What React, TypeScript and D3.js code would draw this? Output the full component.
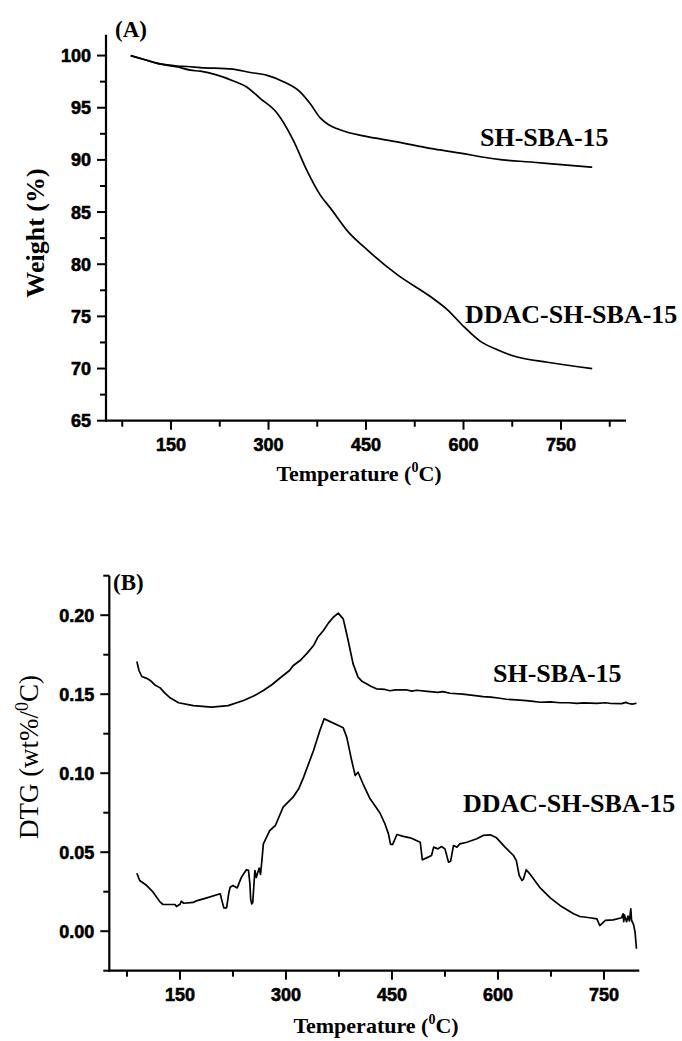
import React from "react";
import * as d3 from "d3";

// ---------- DATA ----------
const tgTicksX = [150, 300, 450, 600, 750];
const tgMinorX = [75, 225, 375, 525, 675, 825];
const tgTicksY = [65, 70, 75, 80, 85, 90, 95, 100];
const tgMinorY = [67.5, 72.5, 77.5, 82.5, 87.5, 92.5, 97.5];

const dtgTicksX = [150, 300, 450, 600, 750];
const dtgMinorX = [75, 225, 375, 525, 675];
const dtgTicksY = [0.0, 0.05, 0.1, 0.15, 0.2];
const dtgMinorY = [-0.025, 0.025, 0.075, 0.125, 0.175, 0.225];

// TG: [temperature °C, weight %]
const tgSH: [number, number][] = [
  [88, 100.0], [110, 99.6], [133, 99.2], [160, 99.0], [175, 98.95], [195, 98.85], [245, 98.7],
  [270, 98.4], [298, 98.1], [323, 97.5], [349, 96.5], [364, 95.4], [380, 94.0],
  [392, 93.4], [405, 93.0], [424, 92.6], [446, 92.3], [500, 91.7], [549, 91.1],
  [600, 90.6], [626, 90.3], [660, 90.0], [703, 89.8], [750, 89.55], [798, 89.3],
];
const tgDDAC: [number, number][] = [
  [88, 100.0], [110, 99.6], [133, 99.2], [160, 98.9], [180, 98.6], [195, 98.5],
  [220, 98.15], [246, 97.57], [267, 96.97], [287, 95.9], [313, 94.5], [338, 91.9],
  [359, 89.0], [380, 86.6], [395, 85.4], [424, 83.0], [446, 81.7], [498, 79.0],
  [549, 76.9], [575, 75.65], [600, 74.05], [626, 72.6], [652, 71.8], [677, 71.2],
  [729, 70.6], [798, 70.0],
];

// DTG: [temperature °C, wt%/°C]
const dtgSH: [number, number][] = [
  [89, 0.1707], [92, 0.165], [96, 0.1612], [102, 0.1602], [108, 0.1587], [114, 0.156],
  [122, 0.154], [128, 0.151], [136, 0.1477], [148, 0.1446], [169, 0.1428], [195, 0.1418],
  [218, 0.1428], [240, 0.146], [255, 0.149], [268, 0.1523], [280, 0.156], [292, 0.1604],
  [305, 0.165], [310, 0.168], [320, 0.1713], [330, 0.176], [339, 0.1808], [345, 0.186],
  [353, 0.1903], [360, 0.195], [367, 0.1987], [374, 0.2013], [381, 0.1977], [385, 0.19],
  [388, 0.184], [395, 0.1692], [402, 0.1608], [408, 0.158], [414, 0.1566], [420, 0.155],
  [428, 0.1534], [440, 0.153], [447, 0.1522], [455, 0.1527], [470, 0.1528], [478, 0.1519],
  [485, 0.1525], [500, 0.1518], [515, 0.1512], [522, 0.1516], [532, 0.1506], [550, 0.15],
  [565, 0.1492], [579, 0.1485], [590, 0.1482], [600, 0.1476], [612, 0.1468], [626, 0.1464],
  [640, 0.1459], [650, 0.1455], [660, 0.1449], [674, 0.1452], [688, 0.1446], [700, 0.1446],
  [712, 0.1442], [721, 0.1445], [740, 0.1442], [752, 0.1446], [760, 0.1441], [775, 0.1440],
  [781, 0.1448], [785, 0.1441], [790, 0.1437], [796, 0.1443],
];
const dtgDDAC: [number, number][] = [
  [89, 0.0367], [93, 0.0321], [103, 0.0289], [112, 0.0247], [122, 0.0184], [126, 0.0169],
  [143, 0.0169], [145, 0.0156], [150, 0.017], [152, 0.019], [155, 0.0177], [169, 0.0182],
  [172, 0.019], [188, 0.0211], [207, 0.0237], [209, 0.02], [212, 0.0148], [216, 0.0148],
  [219, 0.024], [221, 0.0278], [225, 0.0289], [231, 0.0274], [237, 0.0342], [244, 0.0389],
  [247, 0.0385], [249, 0.03], [250, 0.0205], [251.5, 0.0173], [253, 0.018], [254, 0.025],
  [256, 0.0384], [258, 0.034], [260, 0.037], [262, 0.0399], [264, 0.036], [266, 0.045],
  [268, 0.0553], [277, 0.0637], [285, 0.0669], [296, 0.0785], [310, 0.0848], [318, 0.0901],
  [325, 0.0975], [339, 0.1144], [348, 0.127], [354, 0.1344], [358, 0.1336], [381, 0.1287],
  [386, 0.1228], [393, 0.108], [398, 0.0985], [402, 0.1006], [409, 0.0933], [419, 0.0838],
  [424, 0.0806], [433, 0.0748], [440, 0.068], [445, 0.0616], [448, 0.0549], [451, 0.0549],
  [453, 0.057], [457, 0.0612], [466, 0.06], [476, 0.0591], [490, 0.0563], [493, 0.0452],
  [499, 0.0464], [506, 0.0479], [509, 0.0532], [515, 0.0521], [520, 0.0536], [525, 0.0521],
  [530, 0.0437], [533, 0.0443], [537, 0.0542], [542, 0.0532], [546, 0.0553], [556, 0.0563],
  [570, 0.0585], [579, 0.0606], [589, 0.061], [598, 0.0591], [610, 0.0532], [622, 0.0479],
  [626, 0.0447], [630, 0.0353], [634, 0.0321], [636, 0.033], [640, 0.0389], [645, 0.0363],
  [659, 0.0278], [674, 0.0211], [690, 0.0156], [707, 0.011], [716, 0.0093], [730, 0.0085],
  [740, 0.0078], [744, 0.0036], [752, 0.0068], [763, 0.0072], [775, 0.0085], [777, 0.011],
  [778, 0.006], [779, 0.0103], [782, 0.006], [784, 0.0095], [786, 0.0065], [788, 0.0142],
  [789, 0.007], [792, 0.004], [794, -0.0006], [796, -0.0111],
];

const sampleSH = "SH-SBA-15";
const sampleDDAC = "DDAC-SH-SBA-15";

// ---------- STYLE ----------
const serif = "'Liberation Serif', 'Times New Roman', Times, serif";
const sans = "'Liberation Sans', Arial, Helvetica, sans-serif";

type PanelProps = {
  xDomain: [number, number];
  xRange: [number, number];
  yDomain: [number, number];
  yRange: [number, number];
  xTicks: number[];
  xMinor: number[];
  yTicks: number[];
  yMinor: number[];
  yFormat: (v: number) => string;
  series: [number, number][][];
  curve: d3.CurveFactory;
};

function Panel(p: PanelProps) {
  const x = d3.scaleLinear().domain(p.xDomain).range(p.xRange);
  const y = d3.scaleLinear().domain(p.yDomain).range(p.yRange);
  const line = d3
    .line<[number, number]>()
    .x((d) => x(d[0]))
    .y((d) => y(d[1]))
    .curve(p.curve);
  const x0 = p.xRange[0];
  const y0 = p.yRange[0];
  return (
    <g>
      {p.series.map((s, i) => (
        <path key={i} d={line(s) || ""} fill="none" stroke="#000" strokeWidth={1.7} strokeLinejoin="round" />
      ))}
      <line x1={x0} x2={x0} y1={p.yRange[1]} y2={y0 + 1} stroke="#000" strokeWidth={2.2} />
      <line x1={x0 - 1} x2={p.xRange[1]} y1={y0} y2={y0} stroke="#000" strokeWidth={2.2} />
      {p.yTicks.map((t) => (
        <g key={"yt" + t}>
          <line x1={x0 - 9} x2={x0} y1={y(t)} y2={y(t)} stroke="#000" strokeWidth={2} />
          <text
            x={x0 - 15}
            y={y(t)}
            dy="0.36em"
            textAnchor="end"
            fontFamily={sans}
            fontWeight="bold"
            fontSize={18}
            stroke="#000"
            strokeWidth={0.6}
          >
            {p.yFormat(t)}
          </text>
        </g>
      ))}
      {p.yMinor.map((t) => (
        <line key={"ym" + t} x1={x0 - 6} x2={x0} y1={y(t)} y2={y(t)} stroke="#000" strokeWidth={2} />
      ))}
      {p.xTicks.map((t) => (
        <g key={"xt" + t}>
          <line x1={x(t)} x2={x(t)} y1={y0} y2={y0 + 9} stroke="#000" strokeWidth={2} />
          <text
            x={x(t)}
            y={y0 + 30}
            textAnchor="middle"
            fontFamily={sans}
            fontWeight="bold"
            fontSize={18}
            stroke="#000"
            strokeWidth={0.6}
          >
            {t}
          </text>
        </g>
      ))}
      {p.xMinor.map((t) => (
        <line key={"xm" + t} x1={x(t)} x2={x(t)} y1={y0} y2={y0 + 6} stroke="#000" strokeWidth={2} />
      ))}
    </g>
  );
}

export default function App() {
  return (
    <svg
      width={682}
      height={1041}
      viewBox="0 0 682 1041"
      style={{ position: "absolute", left: 0, top: 0, background: "#fff" }}
    >
      <rect x={0} y={0} width={682} height={1041} fill="#fff" />
      {/* Panel A */}
      <Panel
        xDomain={[50, 850]}
        xRange={[106, 626]}
        yDomain={[65, 102]}
        yRange={[420.7, 34.7]}
        xTicks={tgTicksX}
        xMinor={tgMinorX}
        yTicks={tgTicksY}
        yMinor={tgMinorY}
        yFormat={(v) => String(v)}
        series={[tgSH, tgDDAC]}
        curve={d3.curveMonotoneX}
      />
      <text x={115} y={37} fontFamily={serif} fontWeight="bold" fontSize={23}>(A)</text>
      <text x={480} y={146} fontFamily={serif} fontWeight="bold" fontSize={26}>{sampleSH}</text>
      <text x={465} y={323} fontFamily={serif} fontWeight="bold" fontSize={26}>{sampleDDAC}</text>
      <text
        transform="translate(44,233) rotate(-90)"
        textAnchor="middle"
        fontFamily={serif}
        fontWeight="bold"
        fontSize={26}
      >
        Weight (%)
      </text>
      <text x={359} y={481} textAnchor="middle" fontFamily={serif} fontWeight="bold" fontSize={22}>
        Temperature (<tspan fontSize={14} dy={-9}>0</tspan>
        <tspan dy={9}>C)</tspan>
      </text>

      {/* Panel B */}
      <Panel
        xDomain={[50, 800]}
        xRange={[109.3, 639.3]}
        yDomain={[-0.025, 0.225]}
        yRange={[970.7, 575.7]}
        xTicks={dtgTicksX}
        xMinor={dtgMinorX}
        yTicks={dtgTicksY}
        yMinor={dtgMinorY}
        yFormat={(v) => v.toFixed(2)}
        series={[dtgSH, dtgDDAC]}
        curve={d3.curveLinear}
      />
      <text x={113} y={590} fontFamily={serif} fontWeight="bold" fontSize={23}>(B)</text>
      <text x={493} y={682} fontFamily={serif} fontWeight="bold" fontSize={26}>{sampleSH}</text>
      <text x={463} y={812} fontFamily={serif} fontWeight="bold" fontSize={26}>{sampleDDAC}</text>
      <text
        transform="translate(38,757) rotate(-90)"
        textAnchor="middle"
        fontFamily={serif}
        fontSize={27}
      >
        DTG (wt%/<tspan fontSize={18} dy={-10}>0</tspan>
        <tspan dy={10}>C)</tspan>
      </text>
      <text x={376} y={1033} textAnchor="middle" fontFamily={serif} fontWeight="bold" fontSize={22}>
        Temperature (<tspan fontSize={14} dy={-9}>0</tspan>
        <tspan dy={9}>C)</tspan>
      </text>
    </svg>
  );
}
